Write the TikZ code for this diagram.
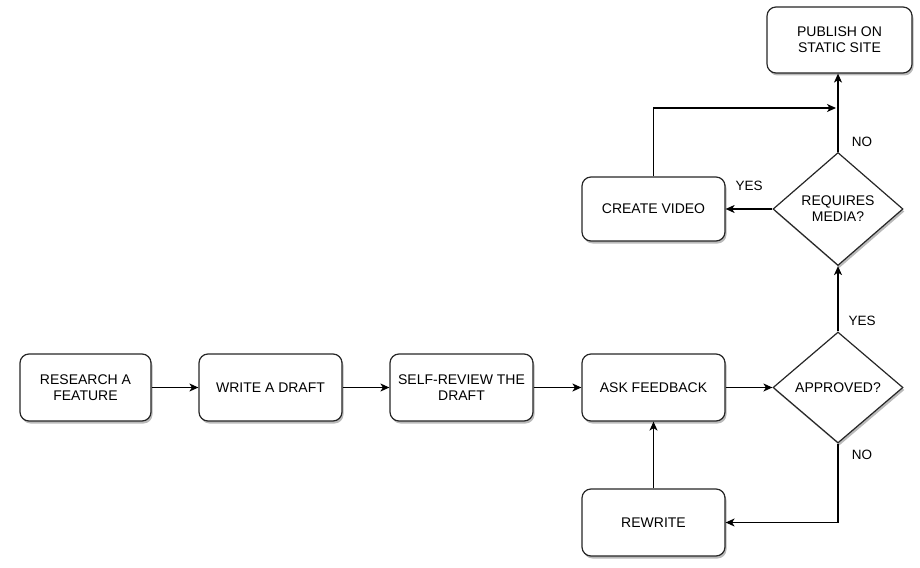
\documentclass[tikz,border=0pt]{standalone}
\usepackage{fontspec}
\setmainfont{Liberation Sans}
\usetikzlibrary{shapes.geometric,shadows,arrows.meta}
\begin{document}
\begin{tikzpicture}[x=1pt,y=-1pt,
  every node/.style={font=\fontsize{14}{16}\selectfont},
  box/.style={draw=black!85, line width=1.2pt, rounded corners=9pt, fill=white, align=center,
    inner sep=0pt,
    drop shadow={shadow xshift=1.5pt, shadow yshift=-2.5pt, fill=black!45, opacity=0.6}},
  dia/.style={draw=black!85, line width=1.2pt, diamond, fill=white, align=center, inner sep=0pt,
    drop shadow={shadow xshift=1.5pt, shadow yshift=-2.5pt, fill=black!45, opacity=0.6}},
  conn/.style={line width=1.2pt, -{Stealth[length=9pt,width=8pt,inset=2.5pt]}},
  lbl/.style={font=\fontsize{13.5}{16}\selectfont}
]
\useasboundingbox (0,0) rectangle (920,567);
\node[box, minimum width=131pt, minimum height=67pt] (research) at (85.5,387.5) {RESEARCH A\\FEATURE};
\node[box, minimum width=143pt, minimum height=67pt] (write) at (270.5,387.5) {WRITE A DRAFT};
\node[box, minimum width=143pt, minimum height=67pt] (self) at (461.5,387.5) {SELF-REVIEW THE\\DRAFT};
\node[box, minimum width=143pt, minimum height=67pt] (ask) at (653.5,387.5) {ASK FEEDBACK};
\node[box, minimum width=143pt, minimum height=67pt] (rewrite) at (653.5,522.5) {REWRITE};
\node[box, minimum width=143pt, minimum height=64pt] (video) at (653.5,209) {CREATE VIDEO};
\node[box, minimum width=145pt, minimum height=66pt] (publish) at (839.5,40) {PUBLISH ON\\STATIC SITE};
\node[dia, minimum width=130pt, minimum height=111pt] (approved) at (838,387.5) {APPROVED?};
\node[dia, minimum width=130pt, minimum height=113pt] (media) at (838,209) {REQUIRES\\MEDIA?};

\coordinate (join) at (838,108);

\draw[conn] (research) -- (write);
\draw[conn] (write) -- (self);
\draw[conn] (self) -- (ask);
\draw[conn] (ask) -- (approved);
\draw[conn] (approved.south) |- (rewrite.east);
\draw[conn] (rewrite) -- (ask);
\draw[conn] (approved.north) -- (media.south);
\draw[conn] (media.west) -- (video.east);
\draw[conn] (media.north) -- (media.north |- publish.south);
\draw[conn, shorten >=2pt] (video.north) |- (join);

\node[lbl] (yes1) at (862,321) {YES};
\node[lbl] (no1) at (862,455) {NO};
\node[lbl] (no2) at (862,142) {NO};
\node[lbl] (yes2) at (749,186) {YES};
\end{tikzpicture}
\end{document}
